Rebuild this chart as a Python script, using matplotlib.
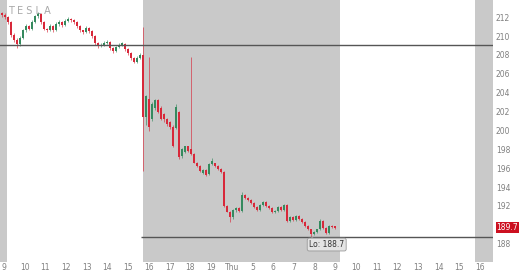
import matplotlib
matplotlib.use("Agg")
import matplotlib.pyplot as plt
import numpy as np

# hour tick labels along the bottom
hour_labels = ["9", "10", "11", "12", "13", "14", "15", "16", "17", "18", "19",
               "Thu", "5", "6", "7", "8", "9", "10", "11", "12", "13", "14", "15", "16"]
price_ticks = [188, 190, 192, 194, 196, 198, 200, 202, 204, 206, 208, 210, 212]

# candles (open, high, low, close)
opens = [212.4, 212.2, 212.0, 211.5, 210.1, 209.6, 209.2, 209.8, 210.6, 211.1,
         210.8, 211.5, 212.1, 212.3, 211.5, 210.8, 210.6, 211.1, 210.6, 211.3,
         211.5, 211.2, 211.6, 211.8, 211.7, 211.5, 211.1, 210.6, 210.4, 210.9,
         210.5, 210.0, 209.3, 208.9, 209.1, 209.3, 209.4, 208.7, 208.4, 208.8,
         209.1, 209.2, 208.6, 208.2, 207.7, 207.3, 207.7, 208.0, 201.4, 203.3,
         201.2, 202.4, 203.2, 202.4, 201.7, 201.2, 200.9, 200.4, 200.3, 202.0,
         197.3, 197.7, 198.3, 198.0, 197.5, 196.6, 196.2, 195.5, 195.8, 195.4,
         196.4, 196.5, 196.2, 195.9, 195.6, 192.0, 191.4, 190.8, 191.6, 191.8,
         191.5, 193.2, 192.8, 192.6, 192.3, 191.9, 191.6, 192.1, 192.4, 192.0,
         191.8, 191.3, 191.5, 191.9, 191.6, 192.1, 190.4, 190.8, 190.5, 190.9,
         190.6, 190.3, 189.9, 189.5, 189.0, 189.2, 189.5, 190.4, 189.7, 189.1,
         189.9, 189.8]
highs = [212.6, 212.4, 212.1, 211.6, 210.3, 209.8, 210.0, 210.8, 211.3, 211.2,
         211.7, 212.2, 212.6, 212.4, 211.6, 210.9, 211.3, 211.2, 211.5, 211.7,
         211.6, 211.8, 212.0, 211.9, 211.8, 211.6, 211.2, 210.7, 211.1, 211.0,
         210.6, 210.1, 209.4, 209.3, 209.5, 209.6, 209.5, 208.8, 209.0, 209.3,
         209.4, 209.3, 208.7, 208.3, 207.8, 207.9, 208.2, 211.0, 203.8, 207.8,
         203.0, 203.3, 203.3, 202.6, 201.8, 201.3, 201.0, 200.6, 202.8, 202.1,
         198.1, 198.4, 198.4, 207.8, 197.6, 196.7, 196.3, 195.9, 195.9, 196.5,
         197.1, 196.6, 196.3, 196.0, 195.7, 192.1, 191.5, 191.7, 191.9, 191.9,
         193.5, 193.3, 192.9, 192.7, 192.4, 192.0, 192.2, 192.5, 192.5, 192.1,
         191.9, 191.6, 192.0, 192.0, 192.2, 192.2, 190.9, 190.9, 191.0, 191.0,
         190.7, 190.4, 190.0, 189.6, 189.3, 189.6, 190.6, 190.5, 189.8, 190.0,
         190.0, 189.9]
lows = [212.0, 211.8, 211.3, 209.9, 209.4, 208.7, 209.0, 209.7, 210.4, 210.6,
        210.7, 211.4, 211.9, 211.3, 210.6, 210.4, 210.5, 210.4, 210.5, 211.1,
        211.0, 211.1, 211.5, 211.5, 211.3, 210.9, 210.4, 210.2, 210.3, 210.3,
        209.8, 209.1, 208.7, 208.8, 209.0, 209.2, 208.5, 208.2, 208.3, 208.7,
        209.0, 208.4, 208.0, 207.5, 207.1, 207.2, 207.6, 195.7, 200.6, 199.9,
        201.0, 202.2, 201.8, 201.1, 200.9, 200.5, 200.2, 198.2, 200.1, 197.0,
        197.1, 197.6, 197.7, 197.4, 196.5, 196.1, 195.6, 195.4, 195.2, 195.3,
        196.3, 196.1, 195.8, 195.5, 191.9, 191.3, 190.3, 190.6, 191.4, 191.4,
        191.4, 192.7, 192.5, 192.2, 191.8, 191.5, 191.5, 192.0, 191.9, 191.7,
        191.2, 191.2, 191.4, 191.5, 191.5, 190.3, 190.3, 190.4, 190.4, 190.5,
        190.2, 189.8, 189.4, 188.7, 188.9, 189.1, 189.4, 189.6, 189.0, 189.0,
        189.7, 189.6]
closes = [212.2, 212.0, 211.5, 210.1, 209.6, 209.2, 209.8, 210.6, 211.1, 210.8,
          211.5, 212.1, 212.3, 211.5, 210.8, 210.6, 211.1, 210.6, 211.3, 211.5,
          211.2, 211.6, 211.8, 211.7, 211.5, 211.1, 210.6, 210.4, 210.9, 210.5,
          210.0, 209.3, 208.9, 209.1, 209.3, 209.4, 208.7, 208.4, 208.8, 209.1,
          209.2, 208.6, 208.2, 207.7, 207.3, 207.7, 208.0, 201.4, 203.6, 200.4,
          202.8, 203.2, 202.0, 201.2, 201.2, 200.7, 200.4, 198.4, 202.5, 197.2,
          198.0, 198.3, 197.8, 197.5, 196.6, 196.2, 195.7, 195.8, 195.3, 196.4,
          196.8, 196.2, 195.9, 195.6, 192.0, 191.4, 190.8, 191.6, 191.8, 191.5,
          193.2, 192.8, 192.6, 192.3, 191.9, 191.6, 192.1, 192.4, 192.0, 191.8,
          191.3, 191.5, 191.9, 191.6, 192.1, 190.4, 190.8, 190.5, 190.9, 190.6,
          190.3, 189.9, 189.5, 189.0, 189.2, 189.5, 190.4, 189.7, 189.1, 189.9,
          189.8, 189.7]

prev_close = 209.07
session_low = 188.7
last_price = 189.7

RED = "#d8283a"
GREEN = "#358a5e"
SHADE = "#c9c9c9"

fig = plt.figure(figsize=(5.2, 2.72), dpi=100)
ax = fig.add_axes([0.0, 10 / 272, 493 / 520, 262 / 272])

# shaded extended-hours sections
ax.axvspan(-1, 0.145, color=SHADE, lw=0, zorder=0)
ax.axvspan(6.71, 16.23, color=SHADE, lw=0, zorder=0)
ax.axvspan(22.75, 25, color=SHADE, lw=0, zorder=0)

o = np.array(opens)
h = np.array(highs)
l = np.array(lows)
c = np.array(closes)
t = -0.097 + 0.145 * np.arange(len(o))
up = c >= o
cols = np.where(up, GREEN, RED)

ax.vlines(t, l, h, colors=cols, lw=0.6, alpha=0.75, zorder=2)
body = np.maximum(np.abs(c - o), 0.12)
ax.bar(t, body, bottom=np.minimum(o, c), width=0.1, color=cols, lw=0, zorder=3)

ax.axhline(prev_close, color="#555555", lw=1.0, zorder=4)
ax.hlines(session_low, 6.62, 25, color="#555555", lw=1.0, zorder=4)

ax.set_xlim(-0.193, 23.62)
ax.set_ylim(186.05, 213.83)

ax.set_xticks(range(len(hour_labels)))
ax.set_xticklabels(hour_labels)
ax.set_yticks(price_ticks)
# the 190 label sits under the last-price tag
ax.set_yticklabels(["" if p == 190 else str(p) for p in price_ticks])
ax.yaxis.tick_right()
ax.tick_params(axis="both", length=0, labelsize=5.5, labelcolor="#808080")
ax.tick_params(axis="x", pad=1)
ax.tick_params(axis="y", pad=2)
for s in ax.spines.values():
    s.set_visible(False)

# last price tag on the right axis
ax.annotate(f"{last_price:.1f}", xy=(1.0, last_price), xycoords=("axes fraction", "data"),
            xytext=(2.5, 0), textcoords="offset points", ha="left", va="center",
            fontsize=5.5, color="white",
            bbox=dict(boxstyle="square,pad=0.12", fc="#cc1020", ec="none"),
            annotation_clip=False)

# session low label
ax.annotate(f"Lo: {session_low}", xy=(t[103], session_low), xytext=(t[103] + 0.75, 187.9),
            ha="center", va="center", fontsize=5.5, color="#333333",
            bbox=dict(boxstyle="round,pad=0.25", fc="#e4e4e4", ec="#999999", lw=0.6),
            arrowprops=dict(arrowstyle="-", color="#999999", lw=0.6), zorder=6)

# watermark
ax.text(0.016, 0.957, "T E S L A", transform=ax.transAxes, fontsize=7,
        color="#a8a8a8", ha="left", va="center", zorder=1)

fig.savefig("out.png", dpi=100)
